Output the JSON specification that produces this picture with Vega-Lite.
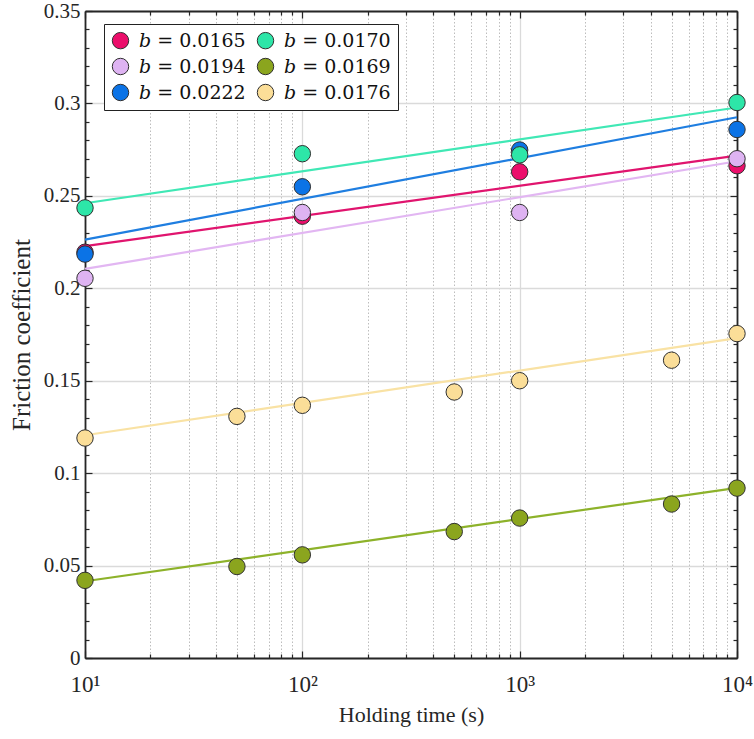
{
  "$schema": "https://vega.github.io/schema/vega-lite/v6.json",
  "autosize": "none",
  "width": 652,
  "height": 647,
  "padding": {"left": 85, "top": 11, "right": 17, "bottom": 81},
  "background": "white",
  "view": {"stroke": null},
  "datasets": {
    "pts": [
      {"b": "𝑏 = 0.0165", "t": 10, "mu": 0.2195},
      {"b": "𝑏 = 0.0165", "t": 100, "mu": 0.239},
      {"b": "𝑏 = 0.0165", "t": 1000, "mu": 0.263},
      {"b": "𝑏 = 0.0165", "t": 10000, "mu": 0.2663},
      {"b": "𝑏 = 0.0194", "t": 10, "mu": 0.2054},
      {"b": "𝑏 = 0.0194", "t": 100, "mu": 0.241},
      {"b": "𝑏 = 0.0194", "t": 1000, "mu": 0.241},
      {"b": "𝑏 = 0.0194", "t": 10000, "mu": 0.2701},
      {"b": "𝑏 = 0.0222", "t": 10, "mu": 0.2185},
      {"b": "𝑏 = 0.0222", "t": 100, "mu": 0.2549},
      {"b": "𝑏 = 0.0222", "t": 1000, "mu": 0.2748},
      {"b": "𝑏 = 0.0222", "t": 10000, "mu": 0.2859},
      {"b": "𝑏 = 0.0170", "t": 10, "mu": 0.2435},
      {"b": "𝑏 = 0.0170", "t": 100, "mu": 0.2728},
      {"b": "𝑏 = 0.0170", "t": 1000, "mu": 0.2722},
      {"b": "𝑏 = 0.0170", "t": 10000, "mu": 0.3005},
      {"b": "𝑏 = 0.0169", "t": 10, "mu": 0.042},
      {"b": "𝑏 = 0.0169", "t": 50, "mu": 0.0495},
      {"b": "𝑏 = 0.0169", "t": 100, "mu": 0.0558},
      {"b": "𝑏 = 0.0169", "t": 500, "mu": 0.0684},
      {"b": "𝑏 = 0.0169", "t": 1000, "mu": 0.0757},
      {"b": "𝑏 = 0.0169", "t": 5000, "mu": 0.0833},
      {"b": "𝑏 = 0.0169", "t": 10000, "mu": 0.0919},
      {"b": "𝑏 = 0.0176", "t": 10, "mu": 0.119},
      {"b": "𝑏 = 0.0176", "t": 50, "mu": 0.1307},
      {"b": "𝑏 = 0.0176", "t": 100, "mu": 0.1367},
      {"b": "𝑏 = 0.0176", "t": 500, "mu": 0.1439},
      {"b": "𝑏 = 0.0176", "t": 1000, "mu": 0.15},
      {"b": "𝑏 = 0.0176", "t": 5000, "mu": 0.1611},
      {"b": "𝑏 = 0.0176", "t": 10000, "mu": 0.1755}
    ],
    "fits": [
      {"b": "𝑏 = 0.0165", "t": 10, "mu": 0.2228},
      {"b": "𝑏 = 0.0165", "t": 10000, "mu": 0.2718},
      {"b": "𝑏 = 0.0194", "t": 10, "mu": 0.2105},
      {"b": "𝑏 = 0.0194", "t": 10000, "mu": 0.2687},
      {"b": "𝑏 = 0.0222", "t": 10, "mu": 0.2263},
      {"b": "𝑏 = 0.0222", "t": 10000, "mu": 0.2925},
      {"b": "𝑏 = 0.0170", "t": 10, "mu": 0.246},
      {"b": "𝑏 = 0.0170", "t": 10000, "mu": 0.2978},
      {"b": "𝑏 = 0.0169", "t": 10, "mu": 0.0415},
      {"b": "𝑏 = 0.0169", "t": 10000, "mu": 0.092},
      {"b": "𝑏 = 0.0176", "t": 10, "mu": 0.1205},
      {"b": "𝑏 = 0.0176", "t": 10000, "mu": 0.173}
    ]
  },
  "config": {
    "axis": {
      "labelFont": "Liberation Serif",
      "titleFont": "Liberation Serif",
      "labelFontSize": 21,
      "titleFontSize": 22,
      "labelColor": "#262626",
      "titleColor": "#262626",
      "titleFontWeight": "normal",
      "labelFlush": false,
      "domainColor": "#262626",
      "domainWidth": 1.8,
      "tickColor": "#262626",
      "tickWidth": 1.2,
      "gridColor": "#dadada",
      "gridWidth": 1.3
    },
    "legend": {
      "labelFont": "DejaVu Serif",
      "labelFontSize": 19,
      "strokeColor": "#222222",
      "fillColor": "white"
    }
  },
  "layer": [
    {
      "data": {"name": "fits"},
      "mark": {"type": "line", "strokeWidth": 2.2},
      "encoding": {
        "x": {
          "field": "t", "type": "quantitative",
          "scale": {"type": "log", "domain": [10, 10000], "nice": false},
          "axis": {
            "orient": "bottom",
            "values": [10, 100, 1000, 10000],
            "labelExpr": "datum.value == 10 ? '10¹' : datum.value == 100 ? '10²' : datum.value == 1000 ? '10³' : '10⁴'",
            "labelFontSize": 23,
            "labelPadding": 22,
            "tickSize": -7,
            "grid": true,
            "title": "Holding time (s)",
            "titlePadding": 8
          }
        },
        "y": {
          "field": "mu", "type": "quantitative",
          "scale": {"domain": [0, 0.35], "nice": false, "zero": false},
          "axis": {
            "orient": "left",
            "values": [0, 0.05, 0.1, 0.15, 0.2, 0.25, 0.3, 0.35],
            "labelExpr": "format(datum.value, '~g')",
            "labelPadding": 12,
            "tickSize": -7,
            "grid": true,
            "title": "Friction coefficient",
            "titleFontSize": 25,
            "titlePadding": 9
          }
        },
        "color": {
          "field": "b", "type": "nominal",
          "scale": {
            "domain": ["𝑏 = 0.0165", "𝑏 = 0.0194", "𝑏 = 0.0222", "𝑏 = 0.0170", "𝑏 = 0.0169", "𝑏 = 0.0176"],
            "range": ["#E0146E", "#E2B6F2", "#1F7EE0", "#40E8B5", "#8DB22A", "#F9E2A4"]
          },
          "legend": null
        },
        "detail": {"field": "b"}
      }
    },
    {
      "data": {"name": "pts"},
      "mark": {"type": "point", "filled": true, "shape": "circle", "size": 270, "stroke": "#303030", "strokeWidth": 1, "opacity": 1},
      "encoding": {
        "x": {
          "field": "t", "type": "quantitative",
          "axis": {
            "orient": "bottom",
            "values": [20, 30, 40, 50, 60, 70, 80, 90, 200, 300, 400, 500, 600, 700, 800, 900, 2000, 3000, 4000, 5000, 6000, 7000, 8000, 9000],
            "labels": false,
            "domain": false,
            "tickSize": -4,
            "grid": true,
            "gridDash": [1.5, 2],
            "gridColor": "#bdbdbd",
            "gridWidth": 1,
            "title": null
          }
        },
        "y": {
          "field": "mu", "type": "quantitative",
          "axis": {
            "orient": "left",
            "values": [0.01, 0.02, 0.03, 0.04, 0.06, 0.07, 0.08, 0.09, 0.11, 0.12, 0.13, 0.14, 0.16, 0.17, 0.18, 0.19, 0.21, 0.22, 0.23, 0.24, 0.26, 0.27, 0.28, 0.29, 0.31, 0.32, 0.33, 0.34],
            "labels": false,
            "domain": false,
            "tickSize": -4,
            "grid": false,
            "title": null
          }
        },
        "color": {
          "field": "b", "type": "nominal",
          "scale": {
            "domain": ["𝑏 = 0.0165", "𝑏 = 0.0194", "𝑏 = 0.0222", "𝑏 = 0.0170", "𝑏 = 0.0169", "𝑏 = 0.0176"],
            "range": ["#EC0E6B", "#DEB3F2", "#0B73E6", "#2DE6A8", "#8BA51E", "#FBDE98"]
          },
          "legend": {
            "title": null,
            "orient": "none",
            "legendX": 19,
            "legendY": 13,
            "columns": 2,
            "columnPadding": 9,
            "rowPadding": 5,
            "padding": 7,
            "labelFont": "DejaVu Serif",
            "labelFontSize": 19,
            "labelColor": "#111111",
            "labelOffset": 9,
            "symbolSize": 270,
            "symbolType": "circle",
            "symbolStrokeColor": "#303030",
            "symbolStrokeWidth": 1,
            "symbolOpacity": 1,
            "strokeColor": "#222222",
            "fillColor": "white",
            "cornerRadius": 0
          }
        }
      }
    },
    {
      "data": {"name": "fits"},
      "mark": {"type": "line", "strokeOpacity": 0},
      "encoding": {
        "x": {
          "field": "t", "type": "quantitative",
          "axis": {"orient": "top", "values": [10, 100, 1000, 10000], "labels": false, "tickSize": -7, "grid": false, "title": null}
        },
        "y": {
          "field": "mu", "type": "quantitative",
          "axis": {"orient": "right", "values": [0, 0.05, 0.1, 0.15, 0.2, 0.25, 0.3, 0.35], "labels": false, "tickSize": -7, "grid": false, "title": null}
        },
        "detail": {"field": "b"}
      }
    },
    {
      "data": {"name": "fits"},
      "mark": {"type": "line", "strokeOpacity": 0},
      "encoding": {
        "x": {
          "field": "t", "type": "quantitative",
          "axis": {"orient": "top", "values": [20, 30, 40, 50, 60, 70, 80, 90, 200, 300, 400, 500, 600, 700, 800, 900, 2000, 3000, 4000, 5000, 6000, 7000, 8000, 9000], "labels": false, "domain": false, "tickSize": -4, "grid": false, "title": null}
        },
        "y": {
          "field": "mu", "type": "quantitative",
          "axis": {"orient": "right", "values": [0.01, 0.02, 0.03, 0.04, 0.06, 0.07, 0.08, 0.09, 0.11, 0.12, 0.13, 0.14, 0.16, 0.17, 0.18, 0.19, 0.21, 0.22, 0.23, 0.24, 0.26, 0.27, 0.28, 0.29, 0.31, 0.32, 0.33, 0.34], "labels": false, "domain": false, "tickSize": -4, "grid": false, "title": null}
        },
        "detail": {"field": "b"}
      }
    }
  ],
  "resolve": {
    "axis": {"x": "independent", "y": "independent"},
    "scale": {"color": "independent"}
  }
}
